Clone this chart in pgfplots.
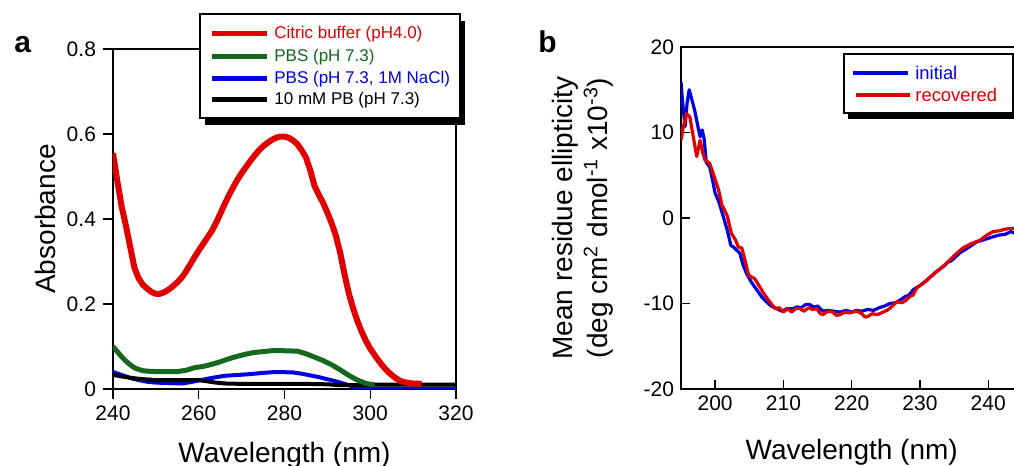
\documentclass[border=0pt]{standalone}
\usepackage{fontspec}
\setmainfont{Liberation Sans}
\usepackage{pgfplots}
\pgfplotsset{compat=1.18}
\definecolor{cred}{RGB}{225,0,0}
\definecolor{cgreen}{RGB}{20,105,30}
\definecolor{cblue}{RGB}{0,0,225}

\pgfplotsset{
  panel/.style={
    scale only axis,
    axis line style={line width=0.7pt},
    every tick/.style={black,line width=0.7pt},
    xtick pos=left, ytick pos=left,
    tick label style={font=\fontsize{10.5}{12}\selectfont},
    label style={font=\fontsize{14}{17.5}\selectfont},
    /pgf/number format/assume math mode=true,
  }
}

\begin{document}
\begin{tikzpicture}
\useasboundingbox (0pt,0pt) rectangle (507pt,233pt);

% panel a
\begin{axis}[panel,
  at={(56.5pt,38.5pt)}, anchor=south west,
  width=171.5pt, height=170pt,
  xmin=240, xmax=320, ymin=0, ymax=0.8,
  xtick={240,260,280,300,320},
  ytick={0,0.2,0.4,0.6,0.8},
  tick align=outside, major tick length=5pt,
  yticklabel style={/pgf/number format/fixed},
  xlabel={Wavelength (nm)},
  ylabel={Absorbance},
  xlabel style={at={(axis description cs:0.5,-0.2176)},anchor=base},
  ylabel style={at={(axis description cs:-0.198,0.5)},anchor=center},
]
\addplot[cblue, line width=2pt, line join=round] table {
240 0.040
242 0.033
244 0.026
246 0.021
248 0.017
250 0.015
253 0.014
256 0.013
258 0.016
260 0.020
263 0.026
266 0.031
269 0.033
272 0.035
275 0.038
278 0.040
282 0.039
284 0.036
286 0.032
288 0.028
290 0.023
292 0.018
294 0.012
296 0.006
298 0.002
300 0.001
320 0.001
};
\addplot[black, line width=2pt, line join=round] table {
240 0.033
243 0.028
246 0.024
250 0.021
255 0.021
260 0.021
262 0.018
264 0.015
266 0.013
270 0.012
285 0.012
290 0.011
293 0.009
296 0.009
300 0.010
320 0.010
};
\addplot[cgreen, line width=2.5pt, line join=round] table {
240 0.100
241 0.088
242 0.076
243 0.066
244 0.057
245 0.050
246 0.046
247 0.043
248 0.042
250 0.041
255 0.041
257 0.044
259 0.050
261 0.053
263 0.058
265 0.064
267 0.071
269 0.077
271 0.082
273 0.086
275 0.088
277 0.090
280 0.090
283 0.089
285 0.083
287 0.075
289 0.067
291 0.057
293 0.045
295 0.032
297 0.021
299 0.013
300 0.011
301 0.010
};
\addplot[cred, line width=3pt, line join=round] table {
240 0.555
241 0.490
242 0.430
243 0.385
244 0.335
245 0.285
246 0.260
247 0.245
248 0.236
249 0.228
250 0.224
251 0.224
252 0.228
253 0.234
254 0.242
255 0.251
256 0.262
257 0.276
258 0.293
259 0.310
260 0.326
261 0.341
262 0.356
263 0.371
264 0.390
265 0.412
266 0.434
267 0.455
268 0.474
269 0.492
270 0.508
271 0.522
272 0.536
273 0.549
274 0.561
275 0.571
276 0.579
277 0.586
278 0.591
279 0.594
280 0.594
281 0.591
282 0.585
283 0.576
284 0.562
285 0.545
286 0.515
287 0.478
288 0.457
289 0.438
290 0.415
291 0.390
292 0.360
293 0.320
294 0.270
295 0.225
296 0.190
297 0.160
298 0.135
299 0.113
300 0.095
301 0.080
302 0.066
303 0.053
304 0.042
305 0.033
306 0.025
307 0.019
308 0.016
309 0.014
310 0.013
312 0.012
};
\end{axis}

% panel b
\begin{axis}[panel,
  at={(340.5pt,38.5pt)}, anchor=south west,
  width=170.7pt, height=171pt,
  xmin=195, xmax=245, ymin=-20, ymax=20,
  xtick={200,210,220,230,240},
  ytick={-20,-10,0,10,20},
  tick align=inside, major tick length=4.5pt,
  xlabel={Wavelength (nm)},
  ylabel={Mean residue ellipticity\\(deg cm\textsuperscript{2} dmol\textsuperscript{-1} x10\textsuperscript{-3})},
  xlabel style={at={(axis description cs:0.5,-0.205)},anchor=base},
  ylabel style={at={(axis description cs:-0.287,0.5)},anchor=center,align=center},
]
\addplot[cblue, line width=1.6pt, line join=round] table {
195.0 15.9
195.3 13.0
195.6 10.7
195.9 13.5
196.2 15.0
196.6 13.8
197.0 12.6
197.4 11.0
197.8 9.5
198.1 10.3
198.4 9.2
198.7 6.5
199.2 6.0
199.6 4.5
200.0 2.9
200.5 2.0
201.2 0.15
201.8 -1.5
202.3 -3.2
202.7 -3.4
203.2 -3.8
203.6 -4.1
204.1 -5.5
204.6 -6.5
205.3 -7.5
206.1 -8.4
206.8 -9.2
207.5 -9.8
208.2 -10.3
209.0 -10.6
209.8 -10.9
210.5 -10.6
211.4 -10.6
212.0 -10.4
212.6 -10.5
213.3 -10.1
213.8 -10.1
214.4 -10.4
215.0 -10.3
215.8 -10.9
216.5 -10.8
217.3 -10.9
218.3 -11.0
219.2 -10.8
220.0 -11.0
220.7 -10.8
221.5 -10.9
222.3 -10.7
223.2 -10.8
224.0 -10.5
224.8 -10.3
225.6 -10.0
226.5 -9.9
227.1 -9.6
227.8 -9.2
228.4 -9.0
229.0 -8.4
230.0 -7.9
231.0 -7.3
232.2 -6.4
233.4 -5.7
234.0 -5.2
234.6 -5.0
235.8 -4.1
237.0 -3.5
238.3 -2.8
239.5 -2.5
240.7 -2.2
241.6 -2.0
242.5 -1.9
243.3 -1.6
244.0 -1.8
245.0 -1.5
};
\addplot[cred, line width=1.6pt, line join=round] table {
195.0 9.1
195.3 10.5
195.8 12.2
196.3 11.8
196.8 9.5
197.3 7.2
197.8 9.1
198.2 7.6
198.5 6.8
199.2 6.4
199.8 5.0
200.5 3.3
201.0 1.5
201.4 0.9
201.8 0.2
202.1 -0.9
202.4 -1.8
203.0 -2.6
203.4 -3.4
203.9 -3.5
204.4 -5.0
204.9 -6.7
205.8 -7.1
206.5 -8.0
207.1 -8.8
208.0 -9.8
208.8 -10.6
209.4 -10.5
210.0 -11.0
210.6 -10.6
211.2 -11.0
211.8 -10.6
212.4 -10.6
213.0 -10.9
213.7 -10.5
214.3 -10.7
214.9 -10.6
215.4 -11.2
215.8 -11.3
216.5 -10.9
217.2 -11.0
217.8 -11.4
218.3 -11.3
219.0 -11.0
219.6 -11.1
220.2 -11.0
220.8 -10.9
221.5 -11.2
222.0 -11.6
222.4 -11.5
223.0 -11.2
223.8 -11.3
224.6 -11.0
225.2 -10.8
225.8 -10.4
226.6 -9.8
227.4 -9.9
228.0 -9.6
228.5 -9.2
229.0 -9.0
229.5 -8.2
230.5 -7.6
231.5 -6.9
232.7 -6.1
233.9 -5.3
235.0 -4.4
236.3 -3.5
237.5 -3.0
238.8 -2.6
239.8 -2.0
240.7 -1.6
241.6 -1.5
242.5 -1.3
243.8 -1.2
245.0 -1.0
};
\end{axis}

% panel letters
\node[anchor=base west, inner sep=0pt, font=\fontsize{15}{18}\selectfont\bfseries] at (7pt,206.5pt) {a};
\node[anchor=base west, inner sep=0pt, font=\fontsize{15}{18}\selectfont\bfseries] at (269pt,206.5pt) {b};

% legend a
\fill[black] (102.5pt,170.5pt) rectangle (232.5pt,222.5pt);
\draw[line width=0.9pt, fill=white] (100pt,174pt) rectangle (230pt,226pt);
\begin{scope}[every node/.style={anchor=west, inner sep=0pt, font=\fontsize{8.5}{10}\selectfont}]
\draw[cred, line width=2.5pt] (106pt,216pt) -- (133.5pt,216pt);
\node[text=cred] at (137pt,216pt) {Citric buffer (pH4.0)};
\draw[cgreen, line width=2.5pt] (106pt,204.5pt) -- (133.5pt,204.5pt);
\node[text=cgreen] at (137pt,204.5pt) {PBS (pH 7.3)};
\draw[cblue, line width=2.5pt] (106pt,193.5pt) -- (133.5pt,193.5pt);
\node[text=cblue] at (137pt,193.5pt) {PBS (pH 7.3, 1M NaCl)};
\draw[black, line width=2.5pt] (106pt,183pt) -- (133.5pt,183pt);
\node[text=black] at (137pt,183pt) {10 mM PB (pH 7.3)};
\end{scope}

% legend b
\fill[black] (424pt,173.5pt) rectangle (508.5pt,203pt);
\draw[line width=0.9pt, fill=white] (422pt,176.5pt) rectangle (506.5pt,206pt);
\begin{scope}[every node/.style={anchor=west, inner sep=0pt, font=\fontsize{9.2}{11}\selectfont}]
\draw[cblue, line width=2pt] (426.5pt,196.5pt) -- (454pt,196.5pt);
\node[text=cblue] at (457.5pt,196.5pt) {initial};
\draw[cred, line width=2pt] (428pt,185.5pt) -- (455pt,185.5pt);
\node[text=cred] at (457.5pt,185.5pt) {recovered};
\end{scope}
\end{tikzpicture}
\end{document}
